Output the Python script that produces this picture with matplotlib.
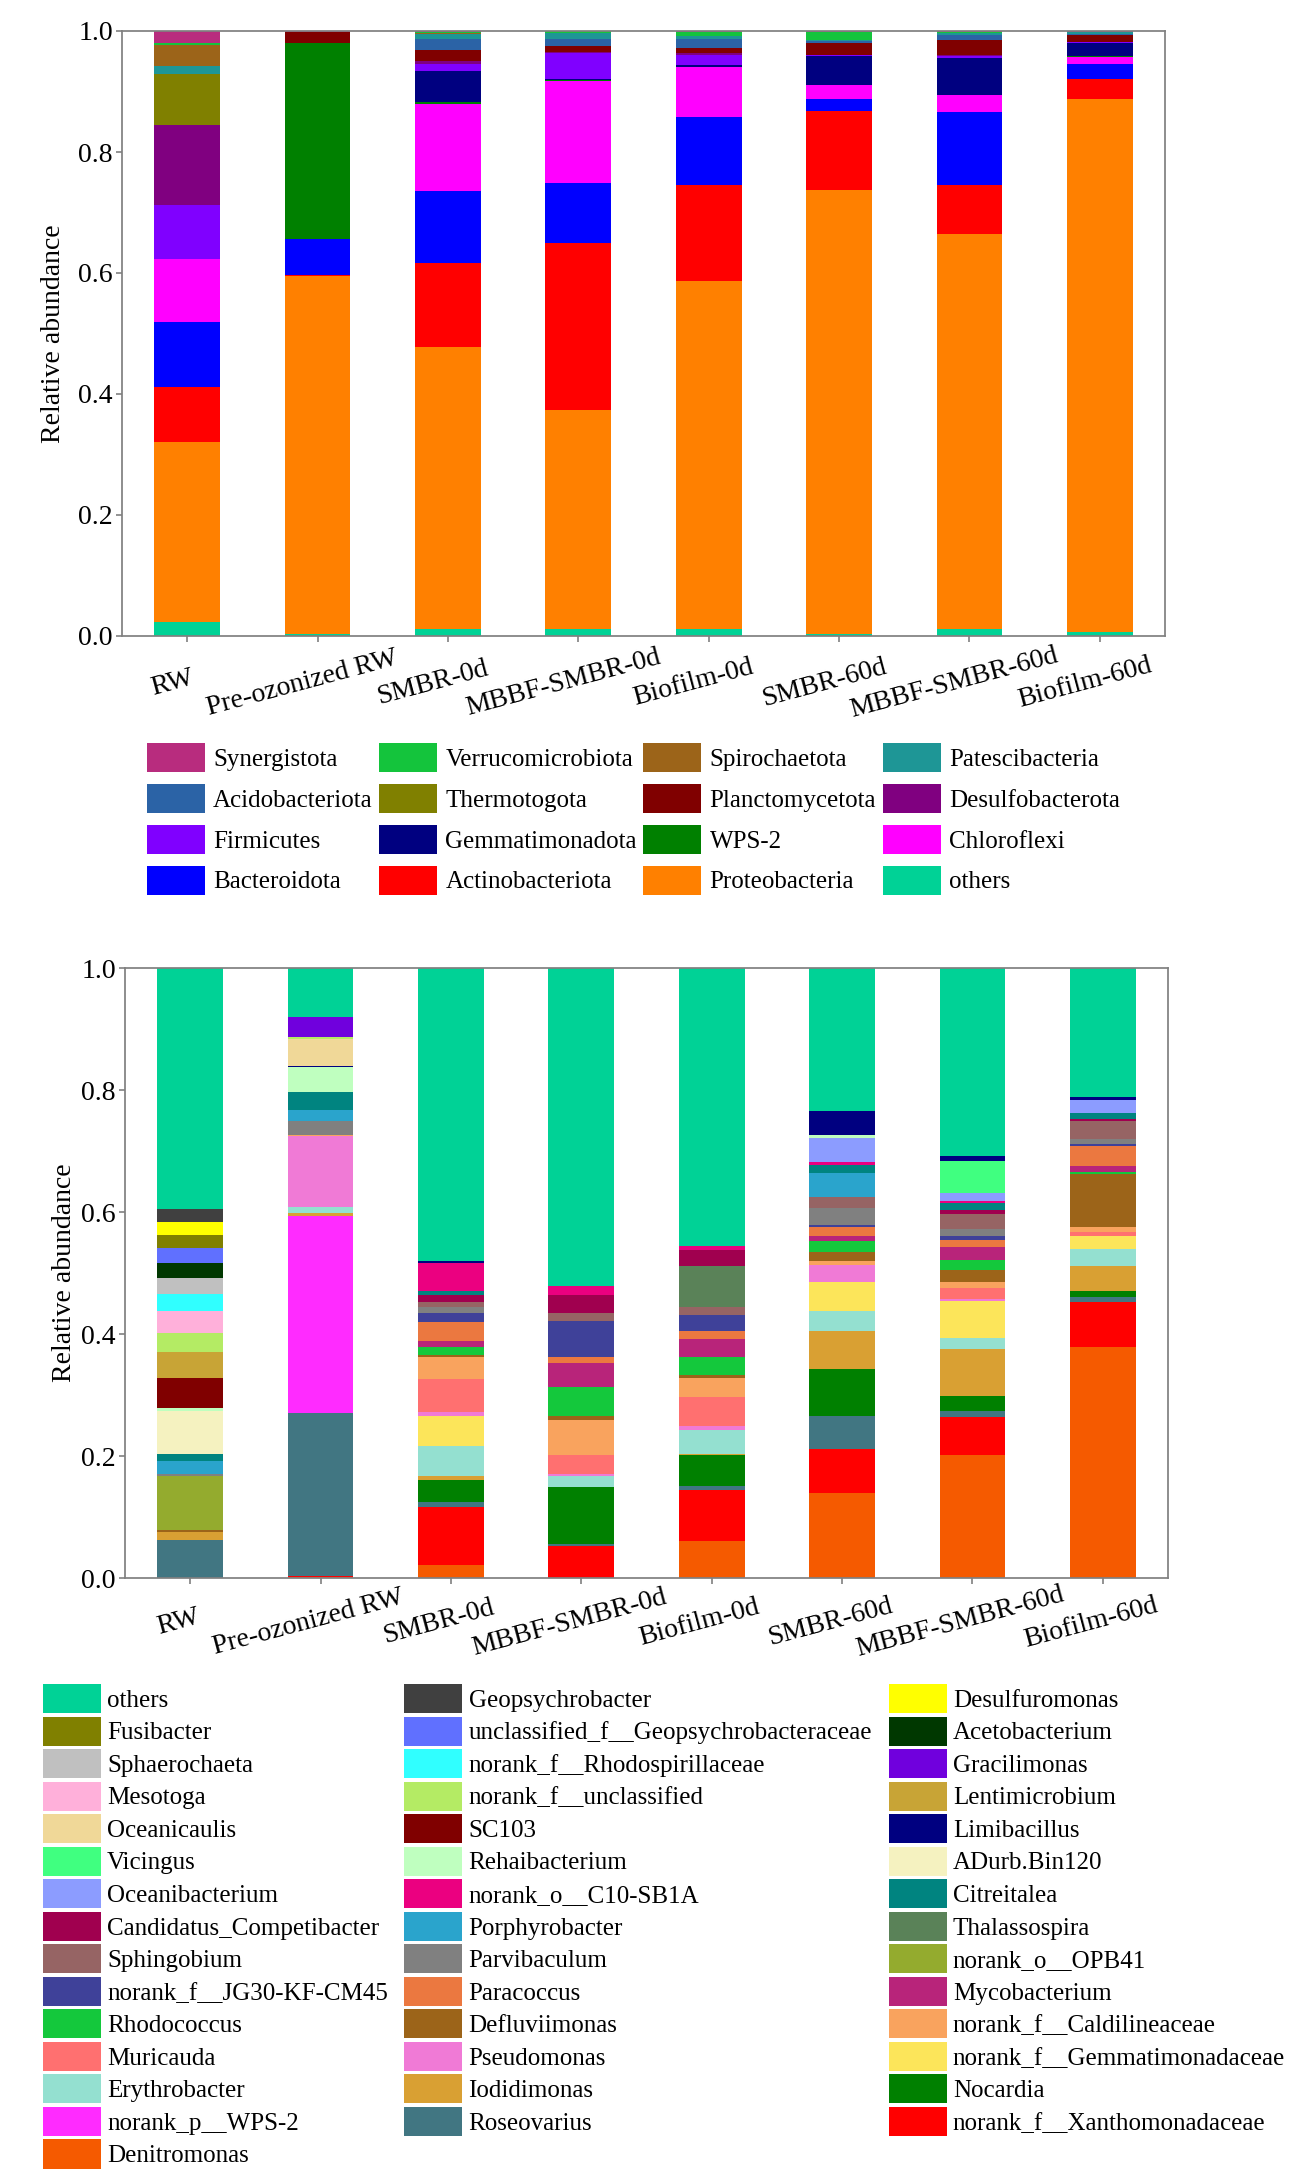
import matplotlib
matplotlib.use("Agg")
import matplotlib.pyplot as plt
import numpy as np
from matplotlib.patches import Patch
from matplotlib.transforms import ScaledTranslation

plt.rcParams['font.family'] = ['Liberation Serif', 'DejaVu Serif']

samples = ["RW", "Pre-ozonized RW", "SMBR-0d", "MBBF-SMBR-0d", "Biofilm-0d",
           "SMBR-60d", "MBBF-SMBR-60d", "Biofilm-60d"]

# ---------------- Phylum level (stack order: bottom -> top) ----------------
phyla = ["others", "Proteobacteria", "Actinobacteriota", "Bacteroidota", "Chloroflexi",
         "WPS-2", "Gemmatimonadota", "Firmicutes", "Desulfobacterota", "Planctomycetota",
         "Thermotogota", "Acidobacteriota", "Patescibacteria", "Spirochaetota",
         "Verrucomicrobiota", "Synergistota"]
phylum_colors = ["#00D296", "#FF8000", "#FF0000", "#0000FF", "#FF00FF",
                 "#008000", "#000080", "#8000FF", "#800080", "#800000",
                 "#808000", "#2B63A6", "#1E9696", "#9C6419",
                 "#14C43C", "#B82C7E"]
p_others            = [0.023, 0.004, 0.011, 0.011, 0.012, 0.004, 0.012, 0.007]
p_proteobacteria    = [0.298, 0.591, 0.467, 0.362, 0.574, 0.734, 0.652, 0.880]
p_actinobacteriota  = [0.091, 0.001, 0.139, 0.276, 0.160, 0.129, 0.081, 0.033]
p_bacteroidota      = [0.107, 0.060, 0.118, 0.099, 0.112, 0.021, 0.121, 0.026]
p_chloroflexi       = [0.104, 0.000, 0.145, 0.170, 0.082, 0.022, 0.028, 0.011]
p_wps2              = [0.000, 0.324, 0.002, 0.001, 0.000, 0.000, 0.000, 0.001]
p_gemmatimonadota   = [0.000, 0.000, 0.052, 0.002, 0.003, 0.049, 0.061, 0.022]
p_firmicutes        = [0.090, 0.000, 0.011, 0.042, 0.018, 0.002, 0.003, 0.001]
p_desulfobacterota  = [0.131, 0.000, 0.006, 0.002, 0.002, 0.000, 0.002, 0.000]
p_planctomycetota   = [0.000, 0.018, 0.018, 0.010, 0.009, 0.019, 0.025, 0.013]
p_thermotogota      = [0.085, 0.000, 0.000, 0.000, 0.000, 0.000, 0.000, 0.000]
p_acidobacteriota   = [0.000, 0.000, 0.018, 0.012, 0.015, 0.003, 0.008, 0.001]
p_patescibacteria   = [0.013, 0.000, 0.008, 0.009, 0.005, 0.002, 0.004, 0.003]
p_spirochaetota     = [0.035, 0.000, 0.002, 0.000, 0.000, 0.000, 0.000, 0.000]
p_verrucomicrobiota = [0.003, 0.000, 0.002, 0.004, 0.007, 0.013, 0.002, 0.001]
p_synergistota      = [0.020, 0.002, 0.001, 0.000, 0.001, 0.002, 0.001, 0.001]
phylum_values = [p_others, p_proteobacteria, p_actinobacteriota, p_bacteroidota,
                 p_chloroflexi, p_wps2, p_gemmatimonadota, p_firmicutes,
                 p_desulfobacterota, p_planctomycetota, p_thermotogota,
                 p_acidobacteriota, p_patescibacteria, p_spirochaetota,
                 p_verrucomicrobiota, p_synergistota]

# ---------------- Genus level (stack order: bottom -> top) ----------------
genera = ["Denitromonas", "norank_f__Xanthomonadaceae", "Roseovarius", "norank_p__WPS-2",
          "Nocardia", "Iodidimonas", "Erythrobacter", "norank_f__Gemmatimonadaceae",
          "Pseudomonas", "Muricauda", "norank_f__Caldilineaceae", "Defluviimonas",
          "Rhodococcus", "Mycobacterium", "Paracoccus", "norank_f__JG30-KF-CM45",
          "norank_o__OPB41", "Parvibaculum", "Sphingobium", "Thalassospira",
          "Porphyrobacter", "Candidatus_Competibacter", "Citreitalea", "norank_o__C10-SB1A",
          "Oceanibacterium", "ADurb.Bin120", "Rehaibacterium", "Vicingus", "Limibacillus",
          "SC103", "Oceanicaulis", "Lentimicrobium", "norank_f__unclassified", "Mesotoga",
          "Gracilimonas", "norank_f__Rhodospirillaceae", "Sphaerochaeta", "Acetobacterium",
          "unclassified_f__Geopsychrobacteraceae", "Fusibacter", "Desulfuromonas",
          "Geopsychrobacter", "others"]
genus_colors = ["#F55A00", "#FF0000", "#417682", "#FF2BFF",
                "#008000", "#D9A033", "#94E0D0", "#FCE55A",
                "#F07AD6", "#FF7070", "#F9A35E", "#9C6419",
                "#14C83C", "#B8247A", "#EB7840", "#3F4199",
                "#94AB2E", "#808080", "#966464", "#5A8258",
                "#2AA4CC", "#A0004F", "#008480", "#EB0080",
                "#8C9CFF", "#F5F2C0", "#BFFFBF", "#40FF80", "#000080",
                "#800000", "#F0D898", "#C8A436", "#B4EB64", "#FFB0DA",
                "#7000DD", "#30FFFF", "#C0C0C0", "#003800",
                "#6070FF", "#808000", "#FFFF00",
                "#404040", "#00D296"]
g_denitromonas     = [0.000, 0.002, 0.021, 0.000, 0.060, 0.140, 0.201, 0.378]
g_xanthomonadaceae = [0.000, 0.002, 0.095, 0.053, 0.085, 0.072, 0.063, 0.074]
g_roseovarius      = [0.063, 0.267, 0.008, 0.003, 0.006, 0.054, 0.009, 0.008]
g_wps2             = [0.000, 0.323, 0.000, 0.000, 0.000, 0.000, 0.000, 0.000]
g_nocardia         = [0.000, 0.000, 0.037, 0.094, 0.050, 0.076, 0.025, 0.011]
g_iodidimonas      = [0.012, 0.004, 0.007, 0.000, 0.003, 0.063, 0.077, 0.040]
g_erythrobacter    = [0.000, 0.010, 0.048, 0.018, 0.039, 0.033, 0.018, 0.029]
g_gemmatimonadaceae= [0.000, 0.000, 0.049, 0.000, 0.000, 0.048, 0.061, 0.020]
g_pseudomonas      = [0.000, 0.116, 0.007, 0.003, 0.006, 0.027, 0.004, 0.000]
g_muricauda        = [0.000, 0.000, 0.054, 0.031, 0.047, 0.000, 0.018, 0.007]
g_caldilineaceae   = [0.000, 0.003, 0.036, 0.057, 0.032, 0.006, 0.009, 0.008]
g_defluviimonas    = [0.003, 0.000, 0.003, 0.006, 0.004, 0.015, 0.020, 0.087]
g_rhodococcus      = [0.000, 0.000, 0.014, 0.048, 0.030, 0.019, 0.016, 0.004]
g_mycobacterium    = [0.000, 0.000, 0.010, 0.040, 0.029, 0.007, 0.021, 0.010]
g_paracoccus       = [0.000, 0.000, 0.030, 0.009, 0.014, 0.016, 0.012, 0.032]
g_jg30             = [0.000, 0.000, 0.016, 0.060, 0.026, 0.003, 0.007, 0.004]
g_opb41            = [0.090, 0.000, 0.000, 0.000, 0.000, 0.000, 0.000, 0.000]
g_parvibaculum     = [0.002, 0.022, 0.010, 0.000, 0.000, 0.027, 0.011, 0.008]
g_sphingobium      = [0.000, 0.000, 0.007, 0.012, 0.013, 0.019, 0.025, 0.029]
g_thalassospira    = [0.000, 0.000, 0.000, 0.000, 0.068, 0.000, 0.000, 0.000]
g_porphyrobacter   = [0.022, 0.019, 0.000, 0.000, 0.000, 0.039, 0.000, 0.000]
g_competibacter    = [0.000, 0.000, 0.012, 0.030, 0.026, 0.000, 0.006, 0.003]
g_citreitalea      = [0.012, 0.029, 0.007, 0.000, 0.000, 0.013, 0.011, 0.010]
g_c10sb1a          = [0.000, 0.000, 0.045, 0.015, 0.006, 0.005, 0.004, 0.000]
g_oceanibacterium  = [0.000, 0.000, 0.000, 0.000, 0.000, 0.040, 0.013, 0.022]
g_adurb            = [0.070, 0.000, 0.000, 0.000, 0.000, 0.000, 0.000, 0.000]
g_rehaibacterium   = [0.005, 0.041, 0.000, 0.000, 0.000, 0.005, 0.000, 0.000]
g_vicingus         = [0.000, 0.000, 0.000, 0.000, 0.000, 0.000, 0.052, 0.000]
g_limibacillus     = [0.000, 0.002, 0.003, 0.000, 0.000, 0.038, 0.009, 0.005]
g_sc103            = [0.049, 0.000, 0.000, 0.000, 0.000, 0.000, 0.000, 0.000]
g_oceanicaulis     = [0.000, 0.044, 0.000, 0.000, 0.000, 0.000, 0.000, 0.000]
g_lentimicrobium   = [0.042, 0.000, 0.000, 0.000, 0.000, 0.000, 0.000, 0.000]
g_nf_unclassified  = [0.032, 0.003, 0.000, 0.000, 0.000, 0.000, 0.000, 0.000]
g_mesotoga         = [0.036, 0.000, 0.000, 0.000, 0.000, 0.000, 0.000, 0.000]
g_gracilimonas     = [0.000, 0.033, 0.000, 0.000, 0.000, 0.000, 0.000, 0.000]
g_rhodospirillaceae= [0.028, 0.000, 0.000, 0.000, 0.000, 0.000, 0.000, 0.000]
g_sphaerochaeta    = [0.026, 0.000, 0.000, 0.000, 0.000, 0.000, 0.000, 0.000]
g_acetobacterium   = [0.025, 0.000, 0.000, 0.000, 0.000, 0.000, 0.000, 0.000]
g_uncl_geo         = [0.024, 0.000, 0.000, 0.000, 0.000, 0.000, 0.000, 0.000]
g_fusibacter       = [0.021, 0.000, 0.000, 0.000, 0.000, 0.000, 0.000, 0.000]
g_desulfuromonas   = [0.022, 0.000, 0.000, 0.000, 0.000, 0.000, 0.000, 0.000]
g_geopsychrobacter = [0.021, 0.000, 0.000, 0.000, 0.000, 0.000, 0.000, 0.000]
g_others           = [0.395, 0.080, 0.481, 0.521, 0.456, 0.235, 0.308, 0.211]
genus_values = [g_denitromonas, g_xanthomonadaceae, g_roseovarius, g_wps2, g_nocardia,
                g_iodidimonas, g_erythrobacter, g_gemmatimonadaceae, g_pseudomonas,
                g_muricauda, g_caldilineaceae, g_defluviimonas, g_rhodococcus,
                g_mycobacterium, g_paracoccus, g_jg30, g_opb41, g_parvibaculum,
                g_sphingobium, g_thalassospira, g_porphyrobacter, g_competibacter,
                g_citreitalea, g_c10sb1a, g_oceanibacterium, g_adurb, g_rehaibacterium,
                g_vicingus, g_limibacillus, g_sc103, g_oceanicaulis, g_lentimicrobium,
                g_nf_unclassified, g_mesotoga, g_gracilimonas, g_rhodospirillaceae,
                g_sphaerochaeta, g_acetobacterium, g_uncl_geo, g_fusibacter,
                g_desulfuromonas, g_geopsychrobacter, g_others]

W, H = 1298, 2183
fig = plt.figure(figsize=(W / 100, H / 100), dpi=100)
ax1 = fig.add_axes([122 / W, 1 - 636 / H, 1043 / W, 605 / H])
ax2 = fig.add_axes([125 / W, 1 - 1578 / H, 1043 / W, 610 / H])

x = np.arange(len(samples))


def stacked(ax, values, colors, labels):
    bottom = np.zeros(len(samples))
    handles = []
    for vals, col, lab in zip(values, colors, labels):
        v = np.array(vals)
        ax.bar(x, v, 0.505, bottom=bottom, color=col, linewidth=0)
        bottom += v
        handles.append(Patch(facecolor=col, edgecolor='none', label=lab))
    return handles


def style(ax, xshift, xpad):
    ax.set_xlim(-0.5, 7.5)
    ax.set_ylim(0, 1.0)
    ax.set_yticks([0, 0.2, 0.4, 0.6, 0.8, 1.0])
    ax.set_yticklabels(["0.0", "0.2", "0.4", "0.6", "0.8", "1.0"], fontsize=20)
    ax.set_xticks(x)
    ax.set_xticklabels(samples, fontsize=20, rotation=15, ha='center', va='center',
                       rotation_mode='anchor')
    ax.tick_params(axis='x', length=4, width=1.2, color='#808080', pad=xpad)
    ax.tick_params(axis='y', length=4, width=1.2, color='#808080', pad=2.5)
    off = ScaledTranslation(xshift / 100, 0, fig.dpi_scale_trans)
    for lbl in ax.get_xticklabels():
        lbl.set_transform(lbl.get_transform() + off)
    for sp in ax.spines.values():
        sp.set_color('#808080')
        sp.set_linewidth(1.25)
    ax.set_ylabel("Relative abundance", fontsize=20)


h1 = stacked(ax1, phylum_values, phylum_colors, phyla)
style(ax1, -15, 30)
ax1.yaxis.set_label_coords(-0.0537, 0.5)

h2 = stacked(ax2, genus_values, genus_colors, genera)
style(ax2, -12, 28)
ax2.yaxis.set_label_coords(-0.046, 0.5)


def rowmajor(handles, ncol):
    rev = handles[::-1]
    n = len(rev)
    nrows = int(np.ceil(n / ncol))
    out = []
    for c in range(ncol):
        for r in range(nrows):
            i = r * ncol + c
            if i < n:
                out.append(rev[i])
    return out


lh1 = rowmajor(h1, 4)
fig.legend(handles=lh1, labels=[h.get_label() for h in lh1], ncol=4,
           loc='upper left', bbox_to_anchor=(0.113, 0.6595), frameon=False,
           fontsize=18, handlelength=2.32, handleheight=1.41, handletextpad=0.33,
           columnspacing=0.26, labelspacing=0.47, borderpad=0, borderaxespad=0)

lh2 = rowmajor(h2, 3)
fig.legend(handles=lh2, labels=[h.get_label() for h in lh2], ncol=3,
           loc='upper left', bbox_to_anchor=(0.0329, 0.2286), frameon=False,
           fontsize=18, handlelength=2.32, handleheight=1.41, handletextpad=0.25,
           columnspacing=0.66, labelspacing=0.14, borderpad=0, borderaxespad=0)

fig.savefig("out.png", dpi=100)
